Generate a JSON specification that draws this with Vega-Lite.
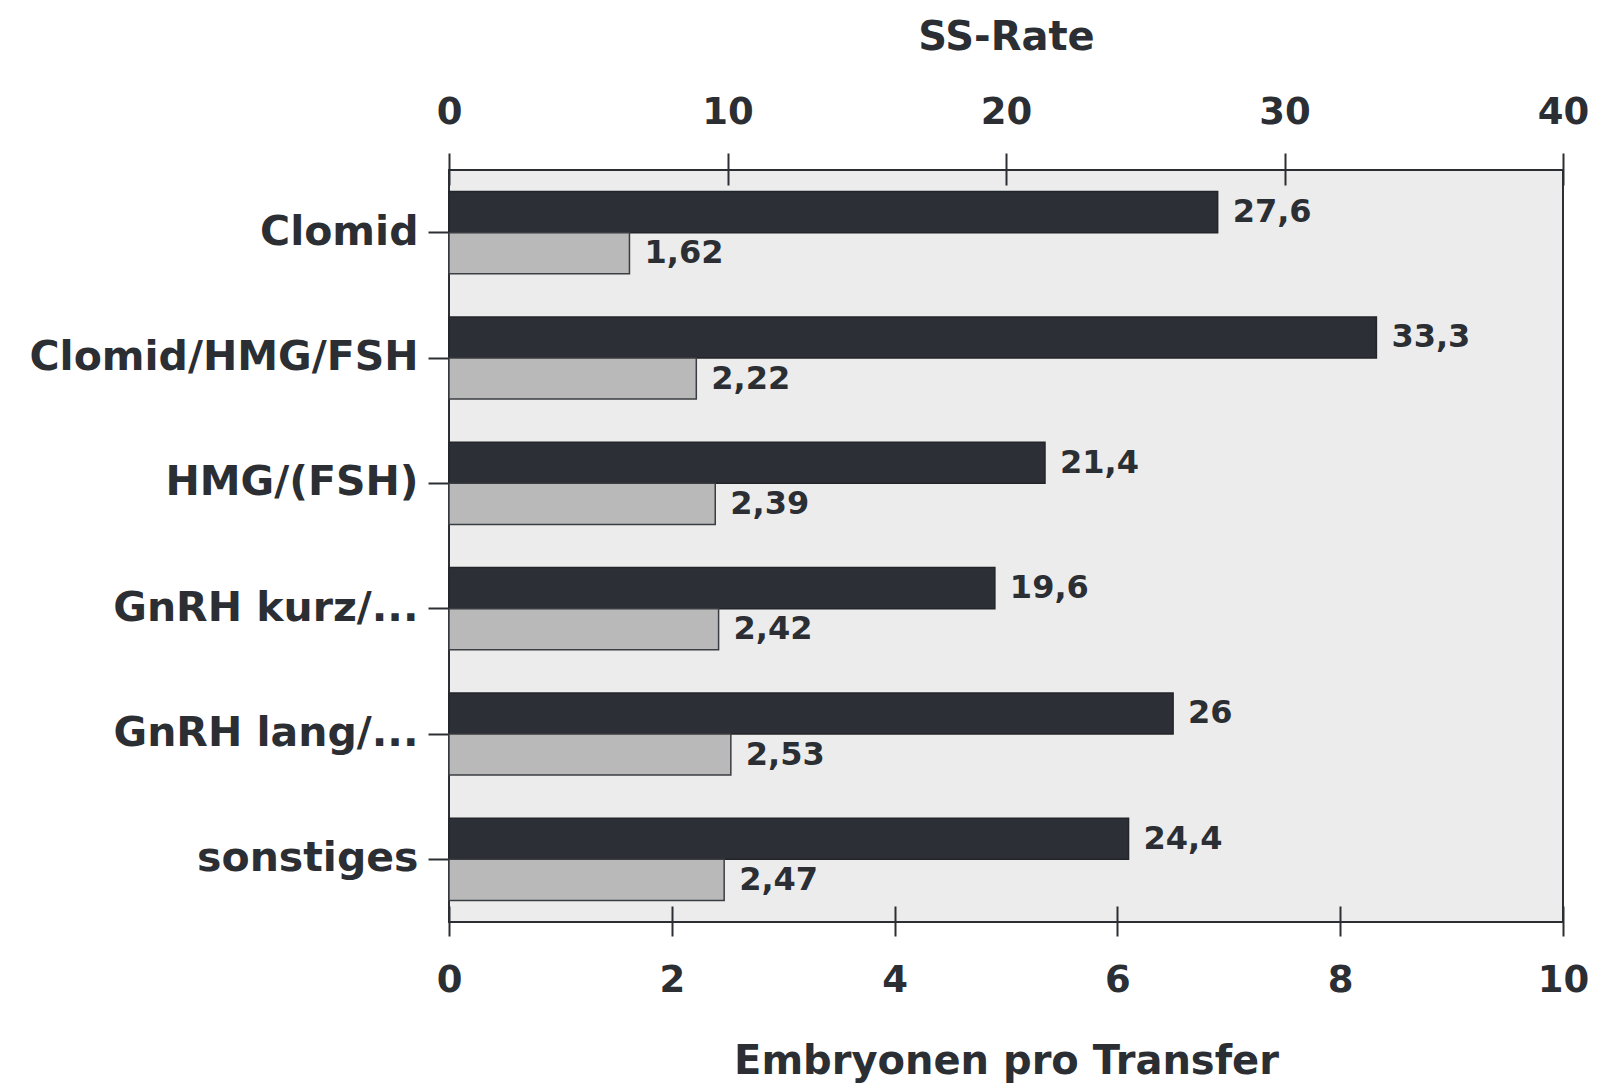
{
  "$schema": "https://vega.github.io/schema/vega-lite/v6.json",
  "width": 1114,
  "height": 752,
  "autosize": {"type": "none"},
  "padding": {"left": 449, "top": 170, "right": 40, "bottom": 170},
  "background": "white",
  "config": {
    "locale": {"number": {"decimal": ",", "thousands": ".", "grouping": [3], "currency": ["", " €"]}},
    "view": {"fill": "#ececec", "stroke": "#2b2e33", "strokeWidth": 2},
    "font": "DejaVu Sans",
    "axis": {"labelFont": "DejaVu Sans", "titleFont": "DejaVu Sans", "labelColor": "#2b2e33", "titleColor": "#2b2e33", "tickColor": "#2b2e33", "labelLimit": 600}
  },
  "datasets": {
    "ss": [
      {"Behandlung": "Clomid", "Reihe": "SS", "Wert": 27.6},
      {"Behandlung": "Clomid/HMG/FSH", "Reihe": "SS", "Wert": 33.3},
      {"Behandlung": "HMG/(FSH)", "Reihe": "SS", "Wert": 21.4},
      {"Behandlung": "GnRH kurz/...", "Reihe": "SS", "Wert": 19.6},
      {"Behandlung": "GnRH lang/...", "Reihe": "SS", "Wert": 26},
      {"Behandlung": "sonstiges", "Reihe": "SS", "Wert": 24.4}
    ],
    "emb": [
      {"Behandlung": "Clomid", "Reihe": "Emb", "Wert": 1.62},
      {"Behandlung": "Clomid/HMG/FSH", "Reihe": "Emb", "Wert": 2.22},
      {"Behandlung": "HMG/(FSH)", "Reihe": "Emb", "Wert": 2.39},
      {"Behandlung": "GnRH kurz/...", "Reihe": "Emb", "Wert": 2.42},
      {"Behandlung": "GnRH lang/...", "Reihe": "Emb", "Wert": 2.53},
      {"Behandlung": "sonstiges", "Reihe": "Emb", "Wert": 2.47}
    ]
  },
  "layer": [
    {
      "data": {"name": "ss"},
      "encoding": {
        "y": {
          "field": "Behandlung", "type": "nominal", "sort": null, "title": null,
          "scale": {"paddingInner": 0.345, "paddingOuter": 0.1725},
          "axis": {"orient": "left", "domain": false, "grid": false, "tickSize": 21, "tickWidth": 2, "labelPadding": 10, "labelFontSize": 41, "labelFontWeight": "bold", "labelLimit": 600}
        },
        "yOffset": {"field": "Reihe", "type": "nominal", "scale": {"domain": ["SS", "Emb"], "paddingInner": 0, "paddingOuter": 0}},
        "x": {
          "field": "Wert", "type": "quantitative",
          "scale": {"domain": [0, 40], "nice": false, "zero": true},
          "axis": {"orient": "top", "values": [0, 10, 20, 30, 40], "labelFlush": false, "domain": false, "grid": false, "tickSize": 32, "tickWidth": 2, "offset": -15, "labelPadding": 22, "labelFontSize": 37, "labelFontWeight": "bold", "title": "SS-Rate", "titleFontSize": 40, "titleFontWeight": "bold", "titlePadding": 36}
        }
      },
      "layer": [
        {"mark": {"type": "bar", "color": "#2c2f35", "stroke": "#22252a", "strokeWidth": 1.5}},
        {"mark": {"type": "text", "align": "left", "baseline": "middle", "dx": 15, "fontSize": 32, "fontWeight": "bold", "color": "#2b2e33"},
         "encoding": {"text": {"field": "Wert", "type": "quantitative", "format": ".3~g"}}}
      ]
    },
    {
      "data": {"name": "emb"},
      "encoding": {
        "y": {
          "field": "Behandlung", "type": "nominal", "sort": null, "title": null,
          "scale": {"paddingInner": 0.345, "paddingOuter": 0.1725},
          "axis": {"orient": "left", "domain": false, "grid": false, "tickSize": 21, "tickWidth": 2, "labelPadding": 10, "labelFontSize": 41, "labelFontWeight": "bold", "labelLimit": 600}
        },
        "yOffset": {"field": "Reihe", "type": "nominal", "scale": {"domain": ["SS", "Emb"], "paddingInner": 0, "paddingOuter": 0}},
        "x": {
          "field": "Wert", "type": "quantitative",
          "scale": {"domain": [0, 10], "nice": false, "zero": true},
          "axis": {"orient": "bottom", "values": [0, 2, 4, 6, 8, 10], "labelFlush": false, "domain": false, "grid": false, "tickSize": 30, "tickWidth": 2, "offset": -16, "labelPadding": 26, "labelFontSize": 37, "labelFontWeight": "bold", "title": "Embryonen pro Transfer", "titleFontSize": 40, "titleFontWeight": "bold", "titlePadding": 43}
        }
      },
      "layer": [
        {"mark": {"type": "bar", "color": "#b9b9b9", "stroke": "#3a3d42", "strokeWidth": 1.5}},
        {"mark": {"type": "text", "align": "left", "baseline": "middle", "dx": 15, "fontSize": 32, "fontWeight": "bold", "color": "#2b2e33"},
         "encoding": {"text": {"field": "Wert", "type": "quantitative", "format": ".3~g"}}}
      ]
    }
  ],
  "resolve": {"scale": {"x": "independent"}, "axis": {"x": "independent"}}
}
